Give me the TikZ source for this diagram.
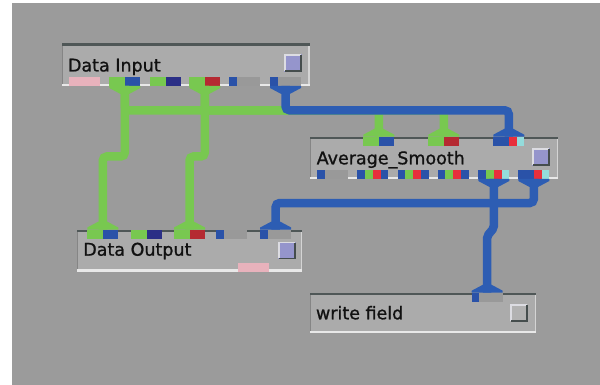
\documentclass[tikz,border=0pt]{standalone}
\usepackage{fontspec}
\setmainfont{DejaVu Sans}
\newfontfamily\lblfont{DejaVu Sans}[FakeBold=1]
\usetikzlibrary{calc}
\definecolor{bgc}{HTML}{9B9B9B}
\definecolor{panelc}{HTML}{ABABAB}
\definecolor{edgedk}{HTML}{4F5757}
\definecolor{edgewh}{HTML}{E8E8E8}
\definecolor{edgelf}{HTML}{858585}
\definecolor{edgert}{HTML}{D4D4D4}
\definecolor{qgr}{HTML}{78C850}
\definecolor{qbl}{HTML}{2A52A8}
\definecolor{qnv}{HTML}{2B2F86}
\definecolor{qrd}{HTML}{B52A32}
\definecolor{qrr}{HTML}{E8303C}
\definecolor{qcy}{HTML}{94DCDC}
\definecolor{qgy}{HTML}{999999}
\definecolor{qpk}{HTML}{E8B2BC}
\definecolor{wblue}{HTML}{2D5DB3}
\definecolor{wgreen}{HTML}{78C850}
\definecolor{lav}{HTML}{9595CC}
\definecolor{btngy}{HTML}{B2B2B2}
\definecolor{btnlight}{HTML}{DCDCE2}
\definecolor{btndark}{HTML}{454D4D}
\definecolor{txt}{HTML}{111111}
\tikzset{
  panelbox/.style={fill=panelc, inner sep=0pt, outer sep=0pt},
  portbox/.style={minimum width=31pt, minimum height=9pt, inner sep=0pt, outer sep=0pt},
  btnbox/.style={minimum width=17.5pt, minimum height=17.5pt, inner sep=0pt, outer sep=0pt},
  btnlt/.style={draw=btnlight, line width=1.6pt},
  btndk/.style={draw=btndark, line width=1.6pt},
  lbl/.style={inner sep=0pt, outer sep=0pt, text=txt, font=\lblfont\fontsize{17.5}{20}\selectfont, anchor=base west},
  gwire/.style={draw=wgreen, line width=8.5pt, rounded corners=4pt},
  bwire/.style={draw=wblue, line width=8.5pt, rounded corners=4pt},
}
\newcommand\panel[5]{%
  \node[panelbox, minimum width=#4pt, minimum height=#5pt, anchor=north west] (#1) at (#2,#3) {};
  \fill[edgelf] (#1.north west) rectangle ($(#1.south west)+(1.2,0)$);
  \fill[edgert] ($(#1.north east)+(-1.5,0)$) rectangle (#1.south east);
  \fill[edgedk] (#1.north west) rectangle ($(#1.north east)+(0,2.5)$);
  \fill[edgewh] ($(#1.south west)+(0,-2.2)$) rectangle (#1.south east);
}
\newcommand\port[4]{%
  \node[portbox] (#1) at (#2+15.5,#3+4.5) {};
  \foreach \c [count=\i from 0] in {#4}
    \fill[\c] ($(#1.north west)+(\i*7.75,0)$) rectangle ++(7.75,9);
}
\newcommand\flaredown[2]{%
  \fill[#2] (#1.south west) -- (#1.south east) -- ++(0,2) -- ($(#1.south)+(4.25,8)$) -- ($(#1.south)+(-4.25,8)$) -- ($(#1.south west)+(0,2)$) -- cycle;}
\newcommand\flareup[2]{%
  \fill[#2] (#1.north west) -- (#1.north east) -- ++(0,-2) -- ($(#1.north)+(4.25,-8)$) -- ($(#1.north)+(-4.25,-8)$) -- ($(#1.north west)+(0,-2)$) -- cycle;}
\newcommand\button[4]{%
  \node[btnbox, fill=#4, anchor=north west] (#1) at (#2,#3) {};
  \draw[btnlt] ($(#1.south west)+(0.8,-0.8)$) |- ($(#1.north east)+(-0.8,0.8)$);
  \draw[btndk] ($(#1.north east)+(-0.8,0.8)$) |- ($(#1.south west)+(0.8,-0.8)$);
}
\begin{document}
\begin{tikzpicture}[x=1pt,y=-1pt]
\useasboundingbox (0,0) rectangle (600,385);
\fill[white] (0,0) rectangle (600,385);
\fill[bgc] (12,3) rectangle (600,385);

% panels
\panel{nDI}{61.5}{43.5}{248}{42.5}
\panel{nAS}{310}{136.7}{248}{42.3}
\panel{nDO}{76.7}{229.5}{225.3}{42}
\panel{nWF}{309.5}{292.7}{226.5}{40.5}

% ports: Data Input (bottom)
\port{dip}{69}{77}{qpk,qpk,qpk,qpk}
\port{di1}{109.3}{77}{qgr,qgr,qbl,qbl}
\port{di2}{150}{77}{qgr,qgr,qnv,qnv}
\port{di3}{189.3}{77}{qgr,qgr,qrd,qrd}
\port{di4}{229}{77}{qbl,qgy,qgy,qgy}
\port{di5}{270}{77}{qbl,qgy,qgy,qgy}
% Average_Smooth top
\port{at1}{363.3}{136.7}{qgr,qgr,qbl,qbl}
\port{at2}{428.3}{136.7}{qgr,qgr,qrd,qrd}
\port{at3}{493.3}{136.7}{qbl,qbl,qrr,qcy}
% Average_Smooth bottom
\port{ab1}{317.3}{170}{qbl,qgy,qgy,qgy}
\port{ab2}{357.3}{170}{qbl,qgr,qrr,qbl}
\port{ab3}{397.7}{170}{qbl,qgr,qrr,qbl}
\port{ab4}{437.7}{170}{qbl,qgr,qrr,qbl}
\port{ab5}{478.3}{170}{qbl,qgr,qrr,qcy}
\port{ab6}{518.3}{170}{qbl,qbl,qrr,qcy}
% Data Output top
\port{do1}{87.3}{229.5}{qgr,qgr,qbl,qbl}
\port{do2}{131}{229.5}{qgr,qgr,qnv,qnv}
\port{do3}{174}{229.5}{qgr,qgr,qrd,qrd}
\port{do4}{216.2}{229.5}{qbl,qgy,qgy,qgy}
\port{do5}{260.2}{229.5}{qbl,qgy,qgy,qgy}
\port{dop}{238.3}{263}{qpk,qpk,qpk,qpk}
% write field top
\port{wf1}{471.7}{292.7}{qbl,qgy,qgy,qgy}

% routing levels
\coordinate (busG) at (0,110.3);
\coordinate (jogG) at (0,156.5);
\coordinate (busB) at (0,203);
\coordinate (jogA) at (0,228);
\coordinate (jogB) at (0,236);

% green wires
\draw[gwire] (di1.south) -- (di1.south |- jogG) -| (do1.north);
\draw[gwire] (di3.south) -- (di3.south |- jogG) -| (do3.north);
\draw[gwire] (di1.south) -- (di1.south |- busG) -| (at1.north);
\draw[gwire] (di3.south) -- (di3.south |- busG) -| (at2.north);
% blue wires
\draw[bwire] (di5.south) -- (di5.south |- busG) -| (at3.north);
\draw[bwire] (ab6.south) -- (ab6.south |- busB) -| (do5.north);
\draw[bwire, rounded corners=2pt] (ab5.south) -- (ab5.south |- jogA) -- (wf1.north |- jogB) -- (wf1.north);

% flares
\flaredown{di1}{wgreen}
\flaredown{di3}{wgreen}
\flaredown{di5}{wblue}
\flareup{at1}{wgreen}
\flareup{at2}{wgreen}
\flareup{at3}{wblue}
\flaredown{ab5}{wblue}
\flaredown{ab6}{wblue}
\flareup{do1}{wgreen}
\flareup{do3}{wgreen}
\flareup{do5}{wblue}
\flareup{wf1}{wblue}

% buttons
\button{bDI}{284.3}{54.3}{lav}
\button{bAS}{532.3}{148.3}{lav}
\button{bDO}{278.3}{241.7}{lav}
\button{bWF}{510.3}{304.2}{btngy}

% labels
\node[lbl] (tDI) at (68,71.5) {Data Input};
\node[lbl] (tAS) at (316.7,164.3) {Average\_Smooth};
\node[lbl] (tDO) at (83.3,255.7) {Data Output};
\node[lbl] (tWF) at (316,319.3) {write field};
\end{tikzpicture}
\end{document}
